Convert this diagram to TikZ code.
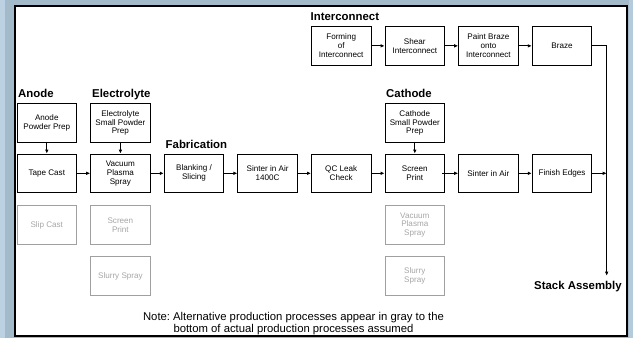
\documentclass[tikz,border=0pt]{standalone}
\usepackage{fontspec}
\setmainfont{Liberation Sans}
\usetikzlibrary{arrows.meta}
\definecolor{bgblue}{HTML}{A3BACB}
\definecolor{lightblue}{HTML}{BCD2E3}
\definecolor{altgray}{HTML}{A6A6A6}
\definecolor{altline}{HTML}{A0A0A0}
\frenchspacing
\begin{document}
\begin{tikzpicture}[x=1pt,y=-1pt,
  proc/.style={draw=black, line width=0.9pt, minimum width=59.5pt, minimum height=38.5pt,
    inner sep=0pt, align=center, font=\fontsize{8.1}{8.9}\selectfont},
  alt/.style={proc, draw=altline, text=altgray},
  head/.style={anchor=base west, inner sep=0pt, font=\fontsize{11.4}{13}\selectfont\bfseries},
  arr/.style={line width=0.9pt, -{Latex[length=4pt,width=3.6pt]}},
  conn/.style={line width=0.9pt}]
\useasboundingbox (0,0) rectangle (633,338);
\fill[bgblue] (0,0) rectangle (633,338);
\fill[lightblue] (0,0) rectangle (5,338);
\fill[lightblue!70!bgblue] (629,0) rectangle (633,338);
\draw[line width=2pt, fill=white] (15,6) rectangle (627,335.5);
% columns and rows
\def\ri{45.85}\def\rt{123}\def\rm{173.3}\def\rga{225}\def\rgb{276}
\def\ca{46.8}\def\cb{120.4}\def\cc{194.0}\def\cd{267.6}\def\ce{341.2}\def\cf{414.8}\def\cg{488.4}\def\ch{562.0}
% headings
\node[head] (hanode) at (18,97.5) {Anode};
\node[head] (helec) at (92,97.5) {Electrolyte};
\node[head] (hfab) at (165.5,148.4) {Fabrication};
\node[head] (hcath) at (386,97.5) {Cathode};
\node[head] (hinter) at (310.5,20.8) {Interconnect};
% interconnect row
\node[proc] (fi) at (\ce,\ri) {Forming\\of\\Interconnect};
\node[proc] (si) at (\cf,\ri) {Shear\\Interconnect};
\node[proc] (pb) at (\cg,\ri) {Paint Braze\\onto\\Interconnect};
\node[proc] (br) at (\ch,\ri) {Braze};
% powder prep row
\node[proc] (apd) at (\ca,\rt) {Anode\\Powder Prep};
\node[proc] (epd) at (\cb,\rt) {Electrolyte\\Small Powder\\Prep};
\node[proc] (cpd) at (\cf,\rt) {Cathode\\Small Powder\\Prep};
% main row
\node[proc] (tc) at (\ca,\rm) {Tape Cast};
\node[proc] (vps) at (\cb,\rm) {Vacuum\\Plasma\\Spray};
\node[proc] (bs) at (\cc,\rm) {Blanking /\\Slicing};
\node[proc] (sia) at (\cd,\rm) {Sinter in Air\\1400C};
\node[proc] (qc) at (\ce,\rm) {QC Leak\\Check};
\node[proc] (sp) at (\cf,\rm) {Screen\\Print};
\node[proc] (sib) at (\cg,\rm) {Sinter in Air};
\node[proc] (fe) at (\ch,\rm) {Finish Edges};
% alternatives
\node[alt] (sc) at (\ca,\rga) {Slip Cast};
\node[alt] (esp) at (\cb,\rga) {Screen\\Print};
\node[alt] (ess) at (\cb,\rgb) {Slurry Spray};
\node[alt] (cvps) at (\cf,\rga) {Vacuum\\Plasma\\Spray};
\node[alt] (css) at (\cf,\rgb) {Slurry\\Spray};
% stack assembly
\node[head] (stack) at (534,289.8) {Stack Assembly};
\coordinate (j1) at (606.7,\ri);
\coordinate (j2) at (606.7,\rm);
\coordinate (sa) at (606.7,275.7);
% connectors
\draw[arr] (fi) -- (si);
\draw[arr] (si) -- (pb);
\draw[arr] (pb) -- (br);
\draw[arr] (br.east) -- (j1) -- (sa);
\draw[arr] (apd) -- (tc);
\draw[arr] (epd) -- (vps);
\draw[arr] (cpd) -- (sp);
\draw[arr] (tc) -- (vps);
\draw[arr] (vps) -- (bs);
\draw[arr] (bs) -- (sia);
\draw[arr] (sia) -- (qc);
\draw[arr] (qc) -- (sp);
\draw[arr] ([xshift=-3pt]sp.east) -- (sib.west);
\draw[arr] (sib) -- (fe);
\draw[arr] (fe.east) -- (j2);
% note
\node[align=center, inner sep=0pt, font=\fontsize{11.3}{12.4}\selectfont] (note) at (293.5,323.5)
  {Note: Alternative production processes appear in gray to the\\bottom of actual production processes assumed};
\end{tikzpicture}
\end{document}
